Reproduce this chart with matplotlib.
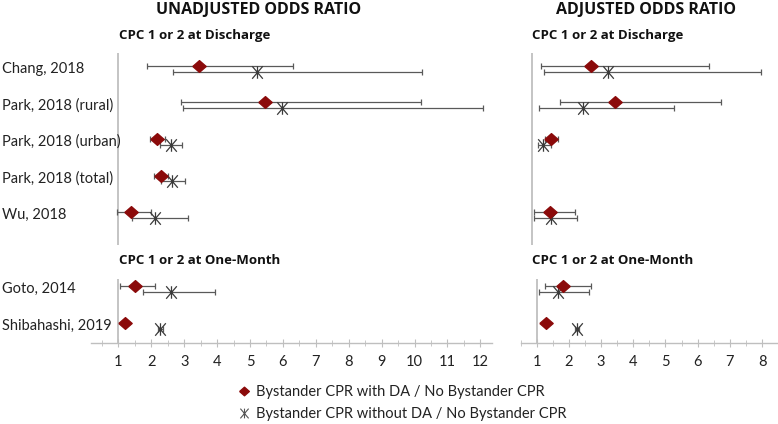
import numpy as np
import matplotlib
matplotlib.use("Agg")
import matplotlib.pyplot as plt
from matplotlib.path import Path
from matplotlib.lines import Line2D
from matplotlib.transforms import blended_transform_factory

plt.rcParams['font.family'] = ['Lato', 'DejaVu Sans']

# study labels
labels_dis = ["Chang, 2018", "Park, 2018 (rural)", "Park, 2018 (urban)",
              "Park, 2018 (total)", "Wu, 2018"]
labels_mon = ["Goto, 2014", "Shibahashi, 2019"]

# unadjusted OR, CPC 1-2 at discharge
un_dis_da = [3.44, 5.45, 2.18, 2.30, 1.37]
un_dis_da_lo = [1.87, 2.91, 1.97, 2.07, 0.95]
un_dis_da_hi = [6.31, 10.20, 2.40, 2.50, 2.00]
un_dis_nd = [5.22, 5.98, 2.59, 2.64, 2.10]
un_dis_nd_lo = [2.66, 2.95, 2.25, 2.30, 1.40]
un_dis_nd_hi = [10.23, 12.08, 2.94, 3.01, 3.11]

# unadjusted OR, one month
un_mon_da = [1.49, 1.20]
un_mon_da_lo = [1.05, 1.15]
un_mon_da_hi = [2.12, 1.25]
un_mon_nd = [2.59, 2.27]
un_mon_nd_lo = [1.74, 2.20]
un_mon_nd_hi = [3.93, 2.35]

# adjusted OR, discharge (no adjusted value for Park total)
ad_dis_da = [2.81, 3.54, 1.59, np.nan, 1.56]
ad_dis_da_lo = [1.26, 1.84, 1.39, np.nan, 1.05]
ad_dis_da_hi = [6.39, 6.77, 1.79, np.nan, 2.30]
ad_dis_nd = [3.32, 2.55, 1.34, np.nan, 1.59]
ad_dis_nd_lo = [1.37, 1.21, 1.18, np.nan, 1.06]
ad_dis_nd_hi = [7.97, 5.32, 1.59, np.nan, 2.38]

# adjusted OR, one month
ad_mon_da = [1.82, 1.29]
ad_mon_da_lo = [1.26, 1.25]
ad_mon_da_hi = [2.68, 1.33]
ad_mon_nd = [1.67, 2.25]
ad_mon_nd_lo = [1.06, 2.18]
ad_mon_nd_hi = [2.63, 2.32]

red = '#8b0a0a'
grey = '#595959'
axis_grey = '#bfbfbf'

diamond = [(-1, 0), (0, 0.88), (1, 0), (0, -0.88), (-1, 0)]
star = Path([(-0.85, -1), (0.85, 1), (-0.85, 1), (0.85, -1), (0, -1), (0, 1)],
            [Path.MOVETO, Path.LINETO, Path.MOVETO, Path.LINETO, Path.MOVETO, Path.LINETO])

W, H = 778, 424
fig = plt.figure(figsize=(W / 100, H / 100), dpi=100)


def px_axes(x0, x1, y0, y1):
    return fig.add_axes([x0 / W, 1 - y1 / H, (x1 - x0) / W, (y1 - y0) / H])


def draw(ax, vals_da, lo_da, hi_da, vals_nd, lo_nd, hi_nd, off=0.08):
    y = np.arange(len(vals_da))
    v, lo, hi = np.array(vals_da), np.array(lo_da), np.array(hi_da)
    ax.errorbar(v, y - off, xerr=[v - lo, hi - v], fmt='none', ecolor=grey,
                elinewidth=0.9, capsize=2.2, capthick=0.9, zorder=2)
    v2, lo2, hi2 = np.array(vals_nd), np.array(lo_nd), np.array(hi_nd)
    ax.errorbar(v2, y + off, xerr=[v2 - lo2, hi2 - v2], fmt='none', ecolor=grey,
                elinewidth=0.9, capsize=2.2, capthick=0.9, zorder=2)
    ax.plot(v2, y + off, linestyle='none', marker=star, ms=9, mfc='none',
            mec='#3a3a3a', mew=0.9, zorder=3)
    ax.plot(v, y - off, linestyle='none', marker=diamond, ms=9.6, mfc=red,
            mec=red, zorder=4)


def style(ax, xlim, ylim, with_axis):
    ax.set_xlim(*xlim)
    ax.set_ylim(*ylim)
    ax.axvline(1, color=axis_grey, lw=1.3, zorder=1)
    for s in ['top', 'right', 'left']:
        ax.spines[s].set_visible(False)
    ax.set_yticks([])
    if with_axis:
        ax.spines['bottom'].set_color(axis_grey)
        ax.spines['bottom'].set_linewidth(1.0)
        ax.set_xticks(np.arange(1, int(xlim[1]) + 1))
        ax.set_xticks(np.arange(0.5, xlim[1], 1.0), minor=True)
        ax.tick_params(axis='x', which='major', direction='inout', length=6,
                       color=axis_grey, labelsize=10.5, labelcolor='#222222', pad=6)
        ax.tick_params(axis='x', which='minor', direction='inout', length=5,
                       color=axis_grey)
    else:
        ax.spines['bottom'].set_visible(False)
        ax.set_xticks([])
    ax.patch.set_alpha(0)


# unadjusted panels
ax1 = px_axes(90.5, 491.8, 53, 245)
draw(ax1, un_dis_da, un_dis_da_lo, un_dis_da_hi, un_dis_nd, un_dis_nd_lo, un_dis_nd_hi)
style(ax1, (0.15, 12.35), (4.82, -0.43), False)

ax2 = px_axes(90.5, 491.8, 279, 342.7)
draw(ax2, un_mon_da, un_mon_da_lo, un_mon_da_hi, un_mon_nd, un_mon_nd_lo, un_mon_nd_hi)
style(ax2, (0.15, 12.35), (1.46, -0.28), True)

# adjusted panels
ax3 = px_axes(520.5, 776.5, 53, 245)
draw(ax3, ad_dis_da, ad_dis_da_lo, ad_dis_da_hi, ad_dis_nd, ad_dis_nd_lo, ad_dis_nd_hi)
style(ax3, (0.65, 8.45), (4.82, -0.43), False)

ax4 = px_axes(520.5, 776.5, 279, 342.7)
draw(ax4, ad_mon_da, ad_mon_da_lo, ad_mon_da_hi, ad_mon_nd, ad_mon_nd_lo, ad_mon_nd_hi)
style(ax4, (0.65, 8.45), (1.46, -0.28), True)

# row labels
for ax, labels in [(ax1, labels_dis), (ax2, labels_mon)]:
    tr = blended_transform_factory(fig.transFigure, ax.transData)
    for i, lab in enumerate(labels):
        ax.text(2 / W, i, lab, transform=tr, ha='left', va='center',
                fontsize=10.5, color='#222222', clip_on=False)

# titles (bold face from Open Sans)
bold_fam = ['Open Sans', 'DejaVu Sans']
fig.text(259 / W, 1 - 10 / H, "UNADJUSTED ODDS RATIO", ha='center', va='center',
         fontsize=11.5, fontweight='bold', color='#111111', family=bold_fam)
fig.text(646 / W, 1 - 10 / H, "ADJUSTED ODDS RATIO", ha='center', va='center',
         fontsize=11.5, fontweight='bold', color='#111111', family=bold_fam)
for x in (119, 531.5):
    fig.text(x / W, 1 - 35 / H, "CPC 1 or 2 at Discharge", ha='left', va='center',
             fontsize=9.5, fontweight='bold', color='#111111', family=bold_fam)
    fig.text(x / W, 1 - 260 / H, "CPC 1 or 2 at One-Month", ha='left', va='center',
             fontsize=9.5, fontweight='bold', color='#111111', family=bold_fam)

# legend
handles = [Line2D([], [], linestyle='none', marker=diamond, ms=7, mfc=red, mec=red),
           Line2D([], [], linestyle='none', marker=star, ms=7, mfc='none', mec='#555555', mew=0.8)]
fig.legend(handles, ["Bystander CPR with DA / No Bystander CPR",
                     "Bystander CPR without DA / No Bystander CPR"],
           loc='upper left', bbox_to_anchor=(230 / W, 1 - 378 / H), frameon=False,
           fontsize=10.5, handlelength=0.9, handletextpad=0.35, labelspacing=0.55,
           borderpad=0, labelcolor='#222222')

fig.savefig("out.png", dpi=100)
